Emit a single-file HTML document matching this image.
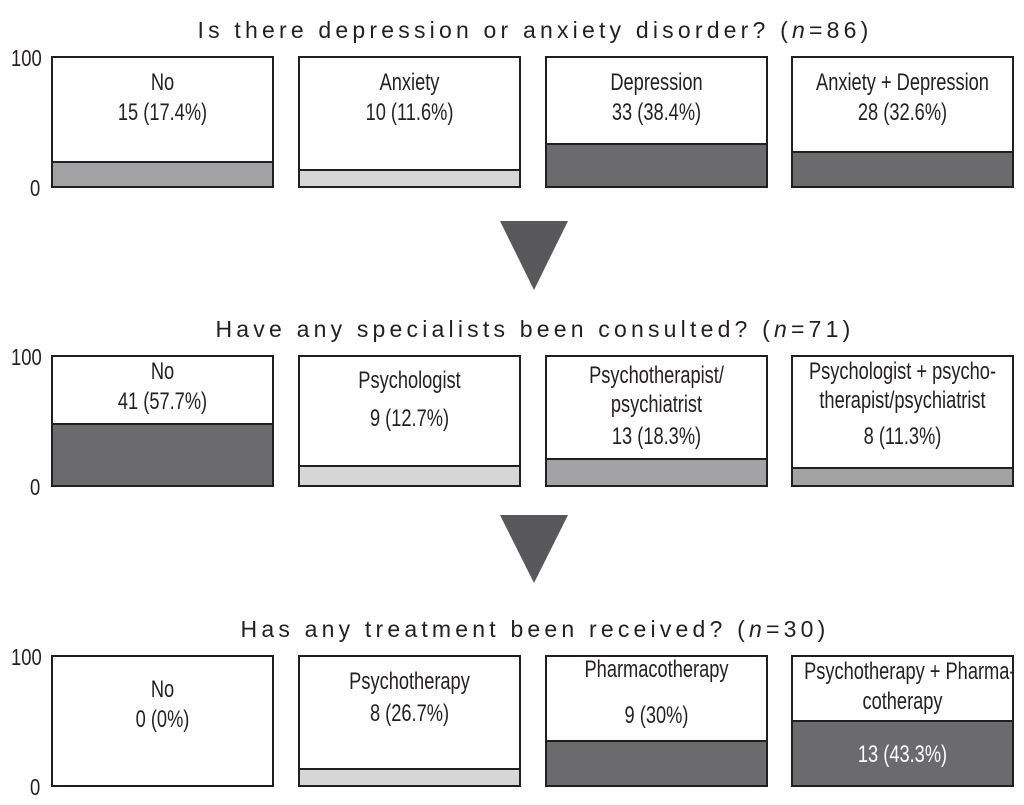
<!DOCTYPE html>
<html><head><meta charset="utf-8"><style>
body{margin:0;width:1024px;height:805px;background:#fff;position:relative;overflow:hidden;font-family:"Liberation Sans Narrow","Liberation Sans",sans-serif;color:#231f20}
.t{position:absolute;left:0;width:1070px;text-align:center;font-family:"Liberation Sans",sans-serif;font-size:23px;letter-spacing:4.2px;line-height:26px}
.ax{position:absolute;font-size:23px;line-height:24px;transform:scaleX(0.8);transform-origin:left}
.box{position:absolute;border:2px solid #231f20;box-sizing:border-box;background:#fff;overflow:hidden}
.fill{position:absolute;left:0;right:0;bottom:0;border-top:2px solid #231f20}
.ln{position:absolute;left:-20px;right:-20px;text-align:center;font-size:24px;line-height:26px;white-space:nowrap;transform:scaleX(0.76)}
</style></head><body>
<div id="root"></div>
<script>
const rowTitles=["Is there depression or anxiety disorder? (<i>n</i>=86)","Have any specialists been consulted? (<i>n</i>=71)","Has any treatment been received? (<i>n</i>=30)"];
const rowTop=[56,355,655];
const colLeft=[51,298,545,791];
// bar fill levels (% of box height) as drawn in the figure
const barLevels=[[19,12.5,33,26.5],[48,15,20,13],[0,12.5,34,50]];
const shades=[["#a2a2a5","#d6d6d7","#6b6b6e","#6b6b6e"],["#6b6b6e","#d6d6d7","#a2a2a5","#a2a2a5"],["#d6d6d7","#d6d6d7","#6b6b6e","#6b6b6e"]];
const texts=[
 [[["No",83],["15 (17.4%)",113]],[["Anxiety",83],["10 (11.6%)",113]],[["Depression",83],["33 (38.4%)",113]],[["Anxiety + Depression",83],["28 (32.6%)",113]]],
 [[["No",372],["41 (57.7%)",402]],[["Psychologist",381],["9 (12.7%)",419]],[["Psychotherapist/",376],["psychiatrist",405],["13 (18.3%)",437]],[["Psychologist + psycho-",372],["therapist/psychiatrist",401],["8 (11.3%)",437]]],
 [[["No",690],["0 (0%)",720]],[["Psychotherapy",682],["8 (26.7%)",714]],[["Pharmacotherapy",670],["9 (30%)",716]],[["Psychotherapy + Pharma-",672],["cotherapy",702],["13 (43.3%)",755,1]]]
];
const W=223,H=132;
const fillH=p=>Math.max(0,p/100*(H-4)-1);
const root=document.getElementById('root');
rowTitles.forEach((tt,r)=>{
 const t=document.createElement('div');t.className='t';t.style.top=(rowTop[r]-39)+'px';t.innerHTML=tt;
 
 
 root.appendChild(t);
 const a=document.createElement('div');a.className='ax';a.style.left='11px';a.style.top=(rowTop[r]-10)+'px';a.textContent='100';
 
 
 root.appendChild(a);
 const z=document.createElement('div');z.className='ax';z.style.left='30px';z.style.top=(rowTop[r]+120)+'px';z.textContent='0';
 
 
 root.appendChild(z);
 colLeft.forEach((x,c)=>{
  const b=document.createElement('div');b.className='box';
  b.style.left=x+'px';b.style.top=rowTop[r]+'px';b.style.width=W+'px';b.style.height=H+'px';
  
  
  const p=barLevels[r][c];
  if(p>0){const f=document.createElement('div');f.className='fill';f.style.height=fillH(p)+'px';f.style.background=shades[r][c];
   
   
   b.appendChild(f);}
  texts[r][c].forEach(l=>{const d=document.createElement('div');d.className='ln';d.textContent=l[0];
   d.style.top=(l[1]-rowTop[r]-2-13)+'px';if(l[2])d.style.color='#fff';
   
   
   b.appendChild(d);});
  root.appendChild(b);
 });
});
</script>
<svg width="1024" height="805" style="position:absolute;left:0;top:0;pointer-events:none">
<polygon points="500,221 568,221 534,290" fill="#58585b"/>
<polygon points="500,515 568,515 534,583" fill="#58585b"/>
</svg>
</body></html>
